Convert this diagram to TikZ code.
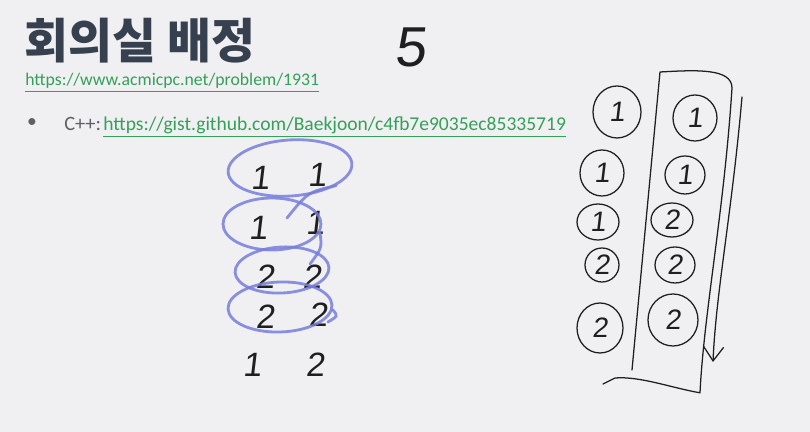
\documentclass[tikz,border=0pt]{standalone}
\usepackage{fontspec}
\usepackage{xcolor}
\usetikzlibrary{arrows.meta,shapes.geometric}
\setmainfont{Carlito}
\newfontfamily\krfont{Noto Sans CJK KR}
\newfontfamily\handfont[FakeSlant=0.12]{Liberation Sans}
\definecolor{slide}{RGB}{240,240,243}
\definecolor{titlegray}{RGB}{55,64,78}
\definecolor{linkgreen}{RGB}{52,160,88}
\definecolor{textgray}{RGB}{95,95,100}
\definecolor{hilite}{RGB}{120,126,218}

\begin{document}
\begin{tikzpicture}[
  pen/.style={draw=black!88, line width=0.9pt, line cap=round, line join=round},
  digit/.style={font=\handfont\fontsize{24}{24}\selectfont, text=black!88, inner sep=0pt},
  cdigit/.style={digit, font=\handfont\fontsize{20}{20}\selectfont},
  ring/.style={ellipse, pen, inner sep=0pt},
  hoop/.style={ellipse, draw=hilite, line width=2pt, draw opacity=0.85, inner sep=0pt},
  link/.style={text=linkgreen, inner sep=0pt, anchor=base west},
]

%% ---- Slide ----
\fill[slide] (0,0) rectangle (20.25,10.8);
\useasboundingbox (0,0) rectangle (20.25,10.8);

%% ---- Heading ----
\node[anchor=west, inner sep=0pt, text=titlegray,
      font=\krfont\bfseries\fontsize{34}{38}\selectfont] (title) at (0.6, 9.78)
  {회의실 배정};
\node[link, font=\fontsize{12.6}{15}\selectfont] (prob) at (0.625, 8.65)
  {\underline{https://www.acmicpc.net/problem/1931}};
\node[text=textgray, inner sep=0pt, font=\fontsize{13.9}{16}\selectfont] (dot) at (0.8, 7.725) {•};
\node[text=textgray, inner sep=0pt, anchor=base west, font=\fontsize{14.5}{16}\selectfont]
  (cpp) at (1.6, 7.525) {C++:};
\node[link, font=\fontsize{13.9}{16}\selectfont] (gist) at (2.575, 7.525)
  {\underline{https://gist.github.com/Baekjoon/c4fb7e9035ec85335719}};

%% ---- Count ----
\node[digit, font=\handfont\fontsize{40}{40}\selectfont] (cnt) at (10.25, 9.625) {5};

%% ---- Middle: pairs ----
\node[digit] (a1) at (6.5,  6.35)  {1};
\node[digit] (b1) at (7.925,6.425) {1};
\node[digit] (a2) at (6.45, 5.1)   {1};
\node[digit] (b2) at (7.875,5.225) {1};
\node[digit] (a3) at (6.625,3.875) {2};
\node[digit] (b3) at (7.8,  3.875) {2};
\node[digit] (a4) at (6.625,2.875) {2};
\node[digit] (b4) at (7.95, 2.925) {2};
\node[digit] (a5) at (6.3,  1.675) {1};
\node[digit] (b5) at (7.875,1.675) {2};

%% ---- Middle: marks ----
\node[hoop, minimum width=3.1cm,  minimum height=1.4cm,  rotate=4]  (h1) at (7.25, 6.6)   {};
\node[hoop, minimum width=2.45cm, minimum height=1.3cm]             (h2) at (6.8,  5.2)   {};
\node[hoop, minimum width=2.35cm, minimum height=1.15cm, rotate=3]  (h3) at (7.05, 4.05)  {};
\node[hoop, minimum width=2.6cm,  minimum height=1.25cm, rotate=2]  (h4) at (7.0,  3.125) {};
\draw[draw=hilite, line width=2pt, draw opacity=0.85, line cap=round]
  (h1.-25) .. controls (7.7,6.0) .. (7.175,5.35);
\draw[draw=hilite, line width=2pt, draw opacity=0.85, line cap=round]
  (h2.-10) .. controls (8.05,4.6) .. (7.75,4.2);
\draw[draw=hilite, line width=2pt, draw opacity=0.85, line cap=round]
  (h4.-5) .. controls (8.45,2.9) .. (8.2,2.75);

%% ---- Right: circles ----
\node[ring, minimum width=1.2cm,  minimum height=1.3cm]  (l1) at (15.425,8.0)  {};
\node[ring, minimum width=1.1cm,  minimum height=1.15cm] (l2) at (15.05, 6.475){};
\node[ring, minimum width=1.05cm, minimum height=0.9cm]  (l3) at (14.95, 5.25) {};
\node[ring, minimum width=0.85cm, minimum height=0.85cm] (l4) at (15.05, 4.175){};
\node[ring, minimum width=1.15cm, minimum height=1.25cm] (l5) at (15.0,  2.6)  {};
\node[ring, minimum width=1.1cm,  minimum height=1.15cm] (r1) at (17.375,7.85) {};
\node[ring, minimum width=1.0cm,  minimum height=0.95cm] (r2) at (17.125,6.425){};
\node[ring, minimum width=1.05cm, minimum height=0.85cm] (r3) at (16.8,  5.3)  {};
\node[ring, minimum width=1.0cm,  minimum height=0.9cm]  (r4) at (16.875,4.175){};
\node[ring, minimum width=1.25cm, minimum height=1.3cm]  (r5) at (16.825,2.8)  {};
\node[cdigit] at (l1) {1};
\node[cdigit] at (l2) {1};
\node[cdigit] at (l3) {1};
\node[cdigit] at (l4) {2};
\node[cdigit] at (l5) {2};
\node[cdigit] at (r1) {1};
\node[cdigit] at (r2) {1};
\node[cdigit] at (r3) {2};
\node[cdigit] at (r4) {2};
\node[cdigit] at (r5) {2};

%% ---- Right: frame and sweep ----
\draw[pen] (15.8,1.55) -- (16.5,9.0)
  .. controls (17.4,9.05) and (18.3,9.1) .. (18.3,8.6)
  .. controls (18.1,5.5) and (17.6,3.0) .. (17.5,0.98)
  .. controls (16.8,1.1) and (16.0,1.4) .. (15.375,1.35) -- (15.075,1.2);
\coordinate (sweepS) at (18.55,8.375);
\coordinate (sweepE) at (17.825,1.75);
\draw[pen, -{Straight Barb[length=0.35cm, width=0.5cm]}]
  (sweepS) .. controls (18.3,5.5) and (17.9,3.5) .. (sweepE);

\end{tikzpicture}
\end{document}
